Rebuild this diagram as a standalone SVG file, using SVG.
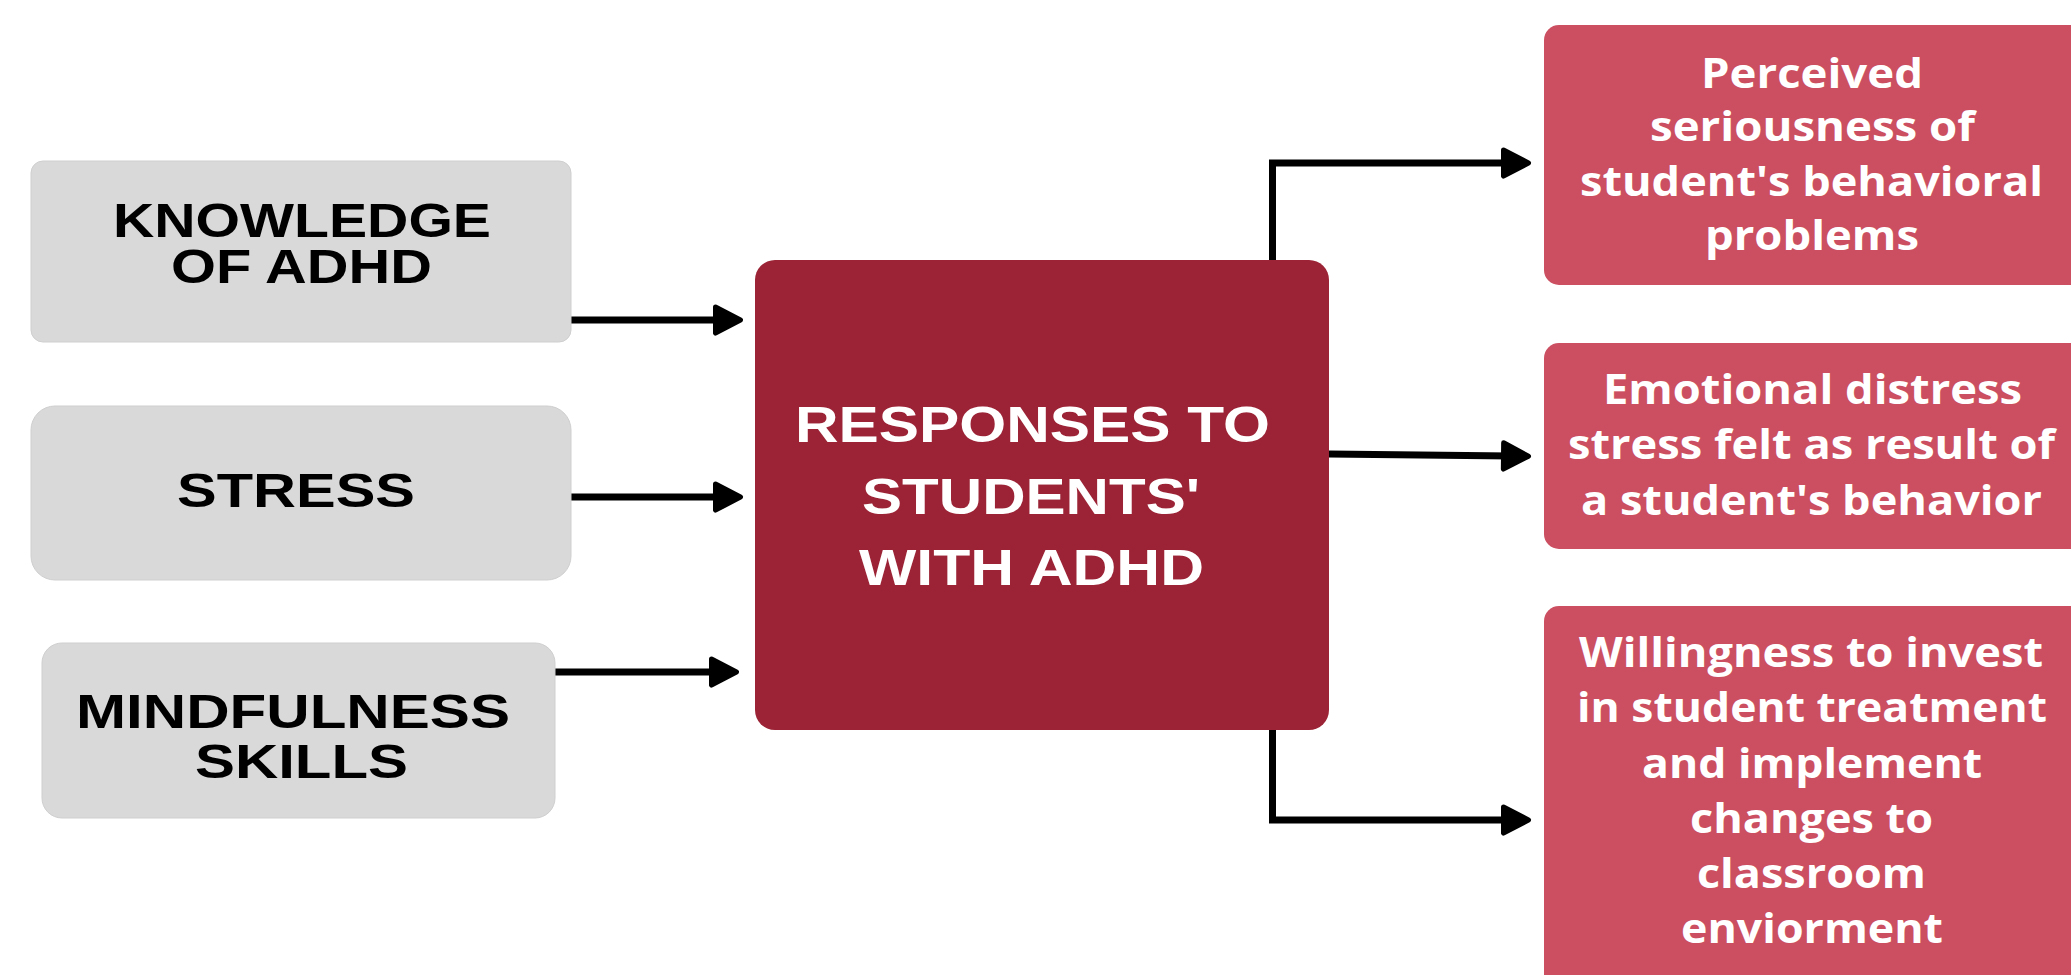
<svg xmlns="http://www.w3.org/2000/svg" width="2071" height="975" viewBox="0 0 2071 975">
  <defs>
    <style>
      .in-box { fill: #d9d9d9; stroke: #cfcfcf; stroke-width: 1; }
      .core-box { fill: #9b2335; }
      .out-box { fill: #cb4f60; }
      .in-text { font-family: "Liberation Sans", Arial, sans-serif; font-weight: 700; font-size: 49px; fill: #000; }
      .core-text { font-family: "Liberation Sans", Arial, sans-serif; font-weight: 700; font-size: 50px; fill: #fff; }
      .out-text { font-family: "Open Sans", "Noto Sans", sans-serif; font-weight: 700; font-size: 42px; fill: #fff; }
      .link { fill: none; stroke: #000; stroke-width: 7; stroke-linejoin: miter; marker-end: url(#arrow); }
    </style>
    <marker id="arrow" markerUnits="userSpaceOnUse" markerWidth="40" markerHeight="40" viewBox="-4 -16 32 32" refX="7" refY="0" orient="auto" overflow="visible">
      <path d="M1,-10.5 L21,0 L1,10.5 Z" fill="#000" stroke="#000" stroke-width="4" stroke-linejoin="round"/>
    </marker>
  </defs>

  <rect width="2071" height="975" fill="#fff"/>

  <!-- connectors -->
  <g id="connectors">
    <path class="link" d="M571 320 H723"/>
    <path class="link" d="M571 497 H723"/>
    <path class="link" d="M555 672 H719"/>
    <path class="link" d="M1272.5 262 V163 H1511"/>
    <path class="link" d="M1329 454 L1511 456"/>
    <path class="link" d="M1272.5 728 V820 H1511"/>
  </g>

  <!-- inputs -->
  <g id="knowledge">
    <rect class="in-box" x="31" y="161" width="540" height="181" rx="12"/>
    <text class="in-text" x="113" y="237" textLength="378" lengthAdjust="spacingAndGlyphs">KNOWLEDGE</text>
    <text class="in-text" x="171" y="283" textLength="261" lengthAdjust="spacingAndGlyphs">OF ADHD</text>
  </g>
  <g id="stress">
    <rect class="in-box" x="31" y="406" width="540" height="174" rx="24"/>
    <text class="in-text" x="177" y="507" textLength="238" lengthAdjust="spacingAndGlyphs">STRESS</text>
  </g>
  <g id="mindfulness">
    <rect class="in-box" x="42" y="643" width="513" height="175" rx="20"/>
    <text class="in-text" x="76" y="728" textLength="434" lengthAdjust="spacingAndGlyphs">MINDFULNESS</text>
    <text class="in-text" x="195" y="778" textLength="213" lengthAdjust="spacingAndGlyphs">SKILLS</text>
  </g>

  <!-- central node -->
  <g id="responses">
    <rect class="core-box" x="755" y="260" width="574" height="470" rx="20"/>
    <text class="core-text" x="795" y="442" textLength="475" lengthAdjust="spacingAndGlyphs">RESPONSES TO</text>
    <text class="core-text" x="862" y="514" textLength="338" lengthAdjust="spacingAndGlyphs">STUDENTS'</text>
    <text class="core-text" x="859" y="585" textLength="345" lengthAdjust="spacingAndGlyphs">WITH ADHD</text>
  </g>

  <!-- outcomes -->
  <g id="seriousness">
    <rect class="out-box" x="1544" y="25" width="560" height="260" rx="15"/>
    <text class="out-text" x="1701" y="88" textLength="222" lengthAdjust="spacingAndGlyphs">Perceived</text>
    <text class="out-text" x="1650" y="141" textLength="325" lengthAdjust="spacingAndGlyphs">seriousness of</text>
    <text class="out-text" x="1580" y="196" textLength="463" lengthAdjust="spacingAndGlyphs">student's behavioral</text>
    <text class="out-text" x="1705" y="250" textLength="214" lengthAdjust="spacingAndGlyphs">problems</text>
  </g>
  <g id="distress">
    <rect class="out-box" x="1544" y="343" width="560" height="206" rx="15"/>
    <text class="out-text" x="1603" y="404" textLength="419" lengthAdjust="spacingAndGlyphs">Emotional distress</text>
    <text class="out-text" x="1568" y="459" textLength="487" lengthAdjust="spacingAndGlyphs">stress felt as result of</text>
    <text class="out-text" x="1581" y="515" textLength="461" lengthAdjust="spacingAndGlyphs">a student's behavior</text>
  </g>
  <g id="willingness">
    <rect class="out-box" x="1544" y="606" width="560" height="400" rx="15"/>
    <text class="out-text" x="1579" y="667" textLength="464" lengthAdjust="spacingAndGlyphs">Willingness to invest</text>
    <text class="out-text" x="1577" y="722" textLength="470" lengthAdjust="spacingAndGlyphs">in student treatment</text>
    <text class="out-text" x="1642" y="778" textLength="340" lengthAdjust="spacingAndGlyphs">and implement</text>
    <text class="out-text" x="1690" y="833" textLength="243" lengthAdjust="spacingAndGlyphs">changes to</text>
    <text class="out-text" x="1697" y="888" textLength="229" lengthAdjust="spacingAndGlyphs">classroom</text>
    <text class="out-text" x="1681" y="943" textLength="262" lengthAdjust="spacingAndGlyphs">enviorment</text>
  </g>
</svg>
